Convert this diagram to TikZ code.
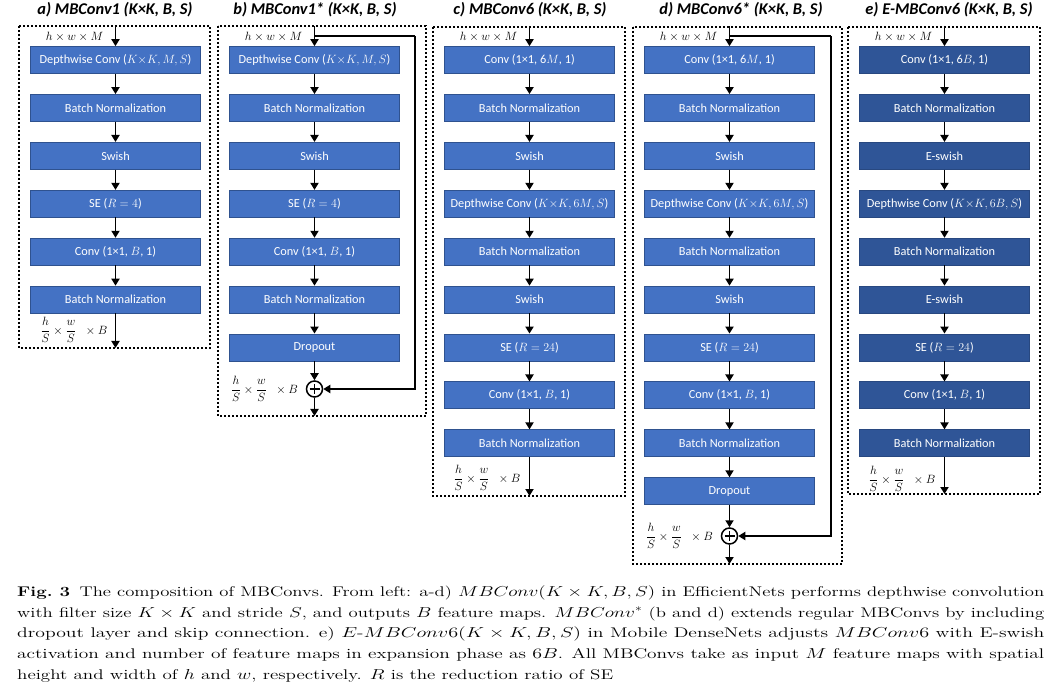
\documentclass[tikz,border=0pt]{standalone}
\usepackage{fontspec}
\usepackage{amsmath}
\usepackage{graphicx}
\newfontfamily\calfont{Carlito}
\usetikzlibrary{arrows.meta,calc}
\definecolor{boxblue}{HTML}{4472C4}
\definecolor{boxline}{HTML}{2F528F}
\definecolor{boxdark}{HTML}{2F5597}
\tikzset{
 blk/.style={rectangle, fill=boxblue, draw=boxline, line width=0.6pt, minimum width=170pt, minimum height=27pt, inner sep=0pt, text=white, font=\calfont\fontsize{12.3}{14}\selectfont},
 blkd/.style={blk, fill=boxdark, draw=boxdark!85!black},
 arr/.style={line width=1.8pt, -{Triangle[length=7pt,width=8pt]}},
 skipline/.style={line width=1.8pt},
 frame/.style={line width=2pt, dash pattern=on 2pt off 2pt},
 ttl/.style={font=\calfont\bfseries\itshape\fontsize{16.4}{18}\selectfont, inner sep=0pt},
 dimlab/.style={font=\fontsize{12.5}{14}\selectfont, inner sep=0pt},
 sumc/.style={circle, draw, line width=1.5pt, minimum size=16pt, inner sep=0pt, fill=white},
 captext/.style={anchor=base west, inner sep=0pt, font=\fontsize{14}{16}\selectfont},
}
\newcommand\mkpanel[4]{%
 \foreach \t [count=\i] in {#4} {
   \node[#3] (#1\i) at (#2, {60+47.9*(\i-1)}) {\t};
   \ifnum\i>1 \pgfmathtruncatemacro\prev{\i-1}\draw[arr] (#1\prev) -- (#1\i);\fi
 }%
}
\newcommand\outlab{$\displaystyle\frac{h}{S}\times\frac{w}{S}\;\;\times B$}
\newcommand\capline[2]{\resizebox{#1}{\height}{#2}}
\begin{document}
\begin{tikzpicture}[x=1pt,y=-1pt]
\useasboundingbox (0,0) rectangle (1055,692);
% frames
\draw[frame] (19,26) rectangle (210,348);
\draw[frame] (218,26) rectangle (426,416);
\draw[frame] (433,27) rectangle (625,496);
\draw[frame] (633,27) rectangle (842,564);
\draw[frame] (848,27) rectangle (1040,494);
% titles
\node[ttl] (ta) at (115,10) {a) MBConv1 (K×K, B, S)};
\node[ttl] (tb) at (315,10) {b) MBConv1* (K×K, B, S)};
\node[ttl] (tc) at (530,10) {c) MBConv6 (K×K, B, S)};
\node[ttl] (td) at (741,10) {d) MBConv6* (K×K, B, S)};
\node[ttl] (te) at (949,10) {e) E-MBConv6 (K×K, B, S)};
% panels
\mkpanel{a}{115.5}{blk}{{Depthwise Conv ($K{\times}K, M, S$)},Batch Normalization,Swish,{SE ($R = 4$)},{Conv (1×1, $B$, 1)},Batch Normalization}
\mkpanel{b}{314.5}{blk}{{Depthwise Conv ($K{\times}K, M, S$)},Batch Normalization,Swish,{SE ($R = 4$)},{Conv (1×1, $B$, 1)},Batch Normalization,Dropout}
\mkpanel{c}{529.5}{blk}{{Conv (1×1, 6$M$, 1)},Batch Normalization,Swish,{Depthwise Conv ($K{\times}K, 6M, S$)},Batch Normalization,Swish,{SE ($R = 24$)},{Conv (1×1, $B$, 1)},Batch Normalization}
\mkpanel{d}{729.5}{blk}{{Conv (1×1, 6$M$, 1)},Batch Normalization,Swish,{Depthwise Conv ($K{\times}K, 6M, S$)},Batch Normalization,Swish,{SE ($R = 24$)},{Conv (1×1, $B$, 1)},Batch Normalization,Dropout}
\mkpanel{e}{944.5}{blkd}{{Conv (1×1, 6$B$, 1)},Batch Normalization,E-swish,{Depthwise Conv ($K{\times}K, 6B, S$)},Batch Normalization,E-swish,{SE ($R = 24$)},{Conv (1×1, $B$, 1)},Batch Normalization}
% inputs
\foreach \p/\x in {a/115.5,b/314.5,c/529.5,d/729.5,e/944.5}{
  \coordinate (\p in) at (\x,26);
  \draw[arr] (\p in) -- (\p1.north);
  \node[dimlab, anchor=east] (\p inlab) at (\x-12,37) {$h\times w\times M$};
}
% outputs a, c, e
\coordinate (aout) at (115.5,348);
\draw[arr] (a6) -- (aout);
\node[dimlab, anchor=east] (aoutlab) at (107.5,330) {\outlab};
\coordinate (cout) at (529.5,496);
\draw[arr] (c9) -- (cout);
\node[dimlab, anchor=east] (coutlab) at (520.5,478) {\outlab};
\coordinate (eout) at (944.5,494);
\draw[arr] (e9) -- (eout);
\node[dimlab, anchor=east] (eoutlab) at (935.5,479) {\outlab};
% b skip
\node[sumc] (bp) at (314.5,389) {};
\draw[line width=1.5pt] (309.5,389) -- (319.5,389) (314.5,384) -- (314.5,394);
\draw[arr] (b7) -- (bp);
\coordinate (bout) at (314.5,416);
\draw[arr] (bp) -- (bout);
\coordinate (bsk) at (314.5,36);
\coordinate (bcorner) at (415,36);
\draw[skipline] (bsk) -- (bcorner);
\draw[arr] (bcorner) |- (bp);
\node[dimlab, anchor=east] (boutlab) at (298,389) {\outlab};
% d skip
\node[sumc] (dp) at (729.5,536) {};
\draw[line width=1.5pt] (724.5,536) -- (734.5,536) (729.5,531) -- (729.5,541);
\draw[arr] (d10) -- (dp);
\coordinate (dout) at (729.5,564);
\draw[arr] (dp) -- (dout);
\coordinate (dsk) at (729.5,36);
\coordinate (dcorner) at (831,36);
\draw[skipline] (dsk) -- (dcorner);
\draw[arr] (dcorner) |- (dp);
\node[dimlab, anchor=east] (doutlab) at (713,536) {\outlab};
% caption
\node[captext] (cap1) at (17,596.3) {\capline{1027pt}{\textbf{Fig.\ 3}\enspace The composition of MBConvs. From left: a-d) $MBConv(K\times K,B,S)$ in EfficientNets performs depthwise convolution}};
\node[captext] (cap2) at (17,617.0) {\capline{1027pt}{with filter size $K\times K$ and stride $S$, and outputs $B$ feature maps. $MBConv^{*}$ (b and d) extends regular MBConvs by including}};
\node[captext] (cap3) at (17,637.7) {\capline{1027pt}{dropout layer and skip connection. e) $E$-$MBConv6(K\times K,B,S)$ in Mobile DenseNets adjusts $MBConv6$ with E-swish}};
\node[captext] (cap4) at (17,658.4) {\capline{1027pt}{activation and number of feature maps in expansion phase as $6B$. All MBConvs take as input $M$ feature maps with spatial}};
\node[captext] (cap5) at (17,679.1) {\capline{596pt}{height and width of $h$ and $w$, respectively. $R$ is the reduction ratio of SE}};
\end{tikzpicture}
\end{document}
